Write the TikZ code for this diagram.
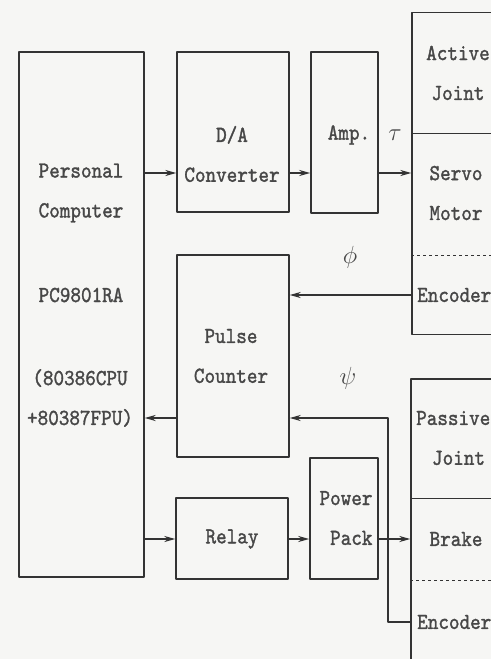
\documentclass[tikz,border=0pt]{standalone}
\usepackage{fontspec}
\usetikzlibrary{arrows.meta}
\newfontfamily\dgmfont{lmmono10-regular}[Extension=.otf, FakeStretch=0.88, FakeBold=1.4]
\definecolor{ink}{HTML}{333333}
\definecolor{paper}{HTML}{F6F6F4}
\begin{document}
\begin{tikzpicture}[x=1bp, y=-1bp, line join=round, >={Stealth[length=11bp,width=6bp]},
	font=\fontsize{23}{40}\selectfont\dgmfont,
	blk/.style={draw=ink, line width=1.8bp, rectangle, inner sep=0pt},
	sig/.style={->, draw=ink, line width=1.8bp},
	sep/.style={draw=ink, line width=1bp},
	lbl/.style={text=ink!90, align=center, inner sep=0pt}]
	\fill[paper] (0,0) rectangle (491,659);
	\clip (0,0) rectangle (491,659);
	% blocks
	\node[blk, minimum width=125, minimum height=527] (pc) at (81.5,314.5) {};
	\node[blk, minimum width=112, minimum height=160] (da) at (233,132) {};
	\node[blk, minimum width=67, minimum height=161] (amp) at (344.5,132.5) {};
	\node[blk, minimum width=118, minimum height=323] (aj) at (471,173.5) {};
	\node[blk, minimum width=112, minimum height=202] (pls) at (233,356) {};
	\node[blk, minimum width=112, minimum height=81] (rly) at (232,538.5) {};
	\node[blk, minimum width=68, minimum height=121] (pwr) at (344,518.5) {};
	\node[blk, minimum width=119, minimum height=322] (pj) at (470.5,539) {};
	% joint separators
	\draw[sep] (aj.west |- 0,133) -- (aj.east |- 0,133);
	\draw[sep, dash pattern=on 3bp off 3bp] (aj.west |- 0,255) -- (aj.east |- 0,255);
	\draw[sep] (pj.west |- 0,498) -- (pj.east |- 0,498);
	\draw[sep, dash pattern=on 3bp off 3bp] (pj.west |- 0,580) -- (pj.east |- 0,580);
	% texts
	\node[lbl] (pct1) at (81,193) {Personal\\Computer};
	\node[lbl] (pct2) at (81,295) {PC9801RA};
	\node[lbl] (pct3) at (80,398) {(80386CPU\\+80387FPU)};
	\node[lbl] (dat) at (232,154) {D/A\\Converter};
	\node[lbl] (ampt) at (349,135) {Amp.};
	\node[lbl] (ajt) at (458,73) {Active\\Joint};
	\node[lbl] (smt) at (456,193) {Servo\\Motor};
	\node[lbl, anchor=west] (enc1) at (417,295) {Encoder};
	\node[lbl] (plst) at (231,356) {Pulse\\Counter};
	\node[lbl] (rlyt) at (232,539) {Relay};
	\node[lbl] (pwrt) at (346,518) {Power\\\ Pack};
	\node[lbl, anchor=west] (pjt) at (416,438) {Passive\\\ Joint};
	\node[lbl] (brk) at (456,539) {Brake};
	\node[lbl, anchor=west] (enc2) at (417,622) {Encoder};
	\node[lbl] (tau) at (395,135) {$\tau$};
	\node[lbl] (phi) at (350,257) {$\phi$};
	\node[lbl] (psi) at (348,378) {$\psi$};
	% signal rows
	\coordinate (ra) at (0,173);
	\coordinate (rb) at (0,295);
	\coordinate (rc) at (0,418);
	\coordinate (rd) at (0,539);
	\coordinate (re) at (0,622);
	\coordinate (jn) at (388,0);
	% connectors
	\draw[sig] (pc.east |- ra) -- (da.west |- ra);
	\draw[sig] (da.east |- ra) -- (amp.west |- ra);
	\draw[sig] (amp.east |- ra) -- (aj.west |- ra);
	\draw[sig] (aj.west |- rb) -- (pls.east |- rb);
	\draw[sig] (pls.west |- rc) -- (pc.east |- rc);
	\draw[sig] (pj.west |- re) -- (jn |- re) -- (jn |- rc) -- (pls.east |- rc);
	\draw[sig] (pc.east |- rd) -- (rly.west |- rd);
	\draw[sig] (rly.east |- rd) -- (pwr.west |- rd);
	\draw[sig] (pwr.east |- rd) -- (pj.west |- rd);
\end{tikzpicture}
\end{document}
